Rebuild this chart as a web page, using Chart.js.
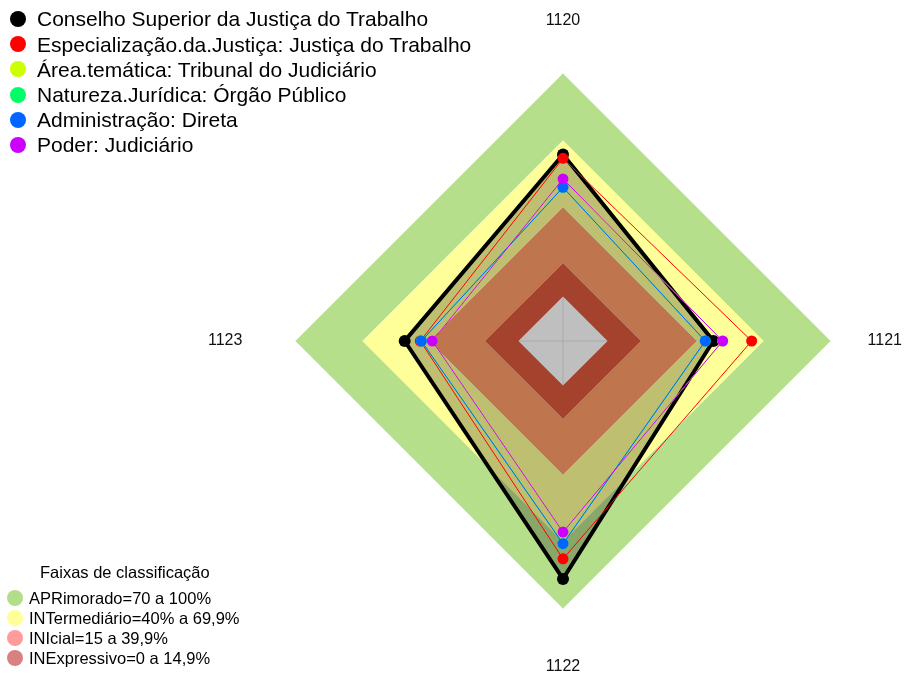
<!DOCTYPE html>
<html lang="pt">
<head>
<meta charset="UTF-8">
<title>Radar - Conselho Superior da Justiça do Trabalho</title>
<script src="https://cdn.jsdelivr.net/npm/chart.js"></script>
<style>
  html, body { margin: 0; padding: 0; background: #fff; overflow: hidden; }
  /* um pouco maior que a janela: o radar fica centrado onde deve */
  #wrap { position: relative; width: 911px; height: 686px; }
  .legenda { position: absolute; left: 0; font-family: 'Liberation Sans', Arial, sans-serif; color: #000; white-space: nowrap; }
  .legenda .item { position: relative; }
  .legenda .item span { position: absolute; border-radius: 50%; }
  #series { top: 6.4px; font-size: 21px; line-height: 25.2px; }
  #series .item { padding-left: 37px; height: 25.2px; }
  #series .item span { left: 10px; top: 4.6px; width: 16px; height: 16px; }
  #faixas { top: 562px; font-size: 16.5px; line-height: 20px; }
  #faixas .titulo { padding-left: 40px; margin-bottom: 6px; }
  #faixas .item { padding-left: 29px; height: 20px; }
  #faixas .item span { left: 7px; top: 2px; width: 16px; height: 16px; }
</style>
</head>
<body>
<div id="wrap">
  <canvas id="grafico"></canvas>
  <div id="series" class="legenda"></div>
  <div id="faixas" class="legenda"></div>
</div>
<script>
// eixos do radar
const eixos = ['1120', '1121', '1122', '1123'];

// séries (valores em %)
const nomesSeries = [
  'Conselho Superior da Justiça do Trabalho',
  'Especialização.da.Justiça: Justiça do Trabalho',
  'Área.temática: Tribunal do Judiciário',
  'Natureza.Jurídica: Órgão Público',
  'Administração: Direta',
  'Poder: Judiciário'
];
const conselho            = [63.6, 47.4, 86.7, 51.0];
const justicaTrabalho     = [61.9, 64.6, 77.7, 44.0];
const tribunalJudiciario  = [52.7, 51.6, 65.7, 38.6];
const orgaoPublico        = [48.9, 43.8, 70.9, 43.5];
const administracaoDireta = [48.9, 43.8, 70.9, 43.5];
const poderJudiciario     = [52.7, 51.6, 65.7, 38.6];

// faixas de classificação
const faixasNomes = [
  'APRimorado=70 a 100%',
  'INTermediário=40% a 69,9%',
  'INIcial=15 a 39,9%',
  'INExpressivo=0 a 14,9%'
];
const faixaTopo = [100, 70, 40, 15];
const faixaBase = [70, 40, 15, 0];

// estilos
const fonte = "'Liberation Sans', Arial, sans-serif";
const seriesCores = ['#000000', '#FF0000', '#CCFF00', '#00FF66', '#0066FF', '#CC00FF'];
const faixasCores = ['#B6DF8B', '#FFFF99', '#FF9C67', '#DC583C'];
const faixasCoresLegenda = ['#B3DE89', '#FFFF99', '#FF9B9B', '#D98080'];
const rotuloPadding = [43.4, 37, 48.4, 53];

const seriesValores = [conselho, justicaTrabalho, tribunalJudiciario, orgaoPublico, administracaoDireta, poderJudiciario];

const datasets = nomesSeries.map((nome, i) => ({
  label: nome,
  data: seriesValores[i],
  borderColor: seriesCores[i],
  borderWidth: i === 0 ? 4 : 1,
  pointBackgroundColor: seriesCores[i],
  pointBorderColor: seriesCores[i],
  pointBorderWidth: 0,
  pointRadius: i === 0 ? 6 : 5.5,
  backgroundColor: i === 0 ? 'rgba(0,0,0,0.25)' : 'transparent',
  fill: i === 0 ? 'start' : false,
  order: nomesSeries.length - i   // a primeira série fica por baixo
}));

faixasNomes.forEach((nome, j) => {
  datasets.push({
    label: nome,
    data: eixos.map(() => faixaTopo[j]),
    backgroundColor: faixasCores[j],
    borderColor: 'transparent',
    borderWidth: 0,
    pointRadius: 0,
    fill: { value: faixaBase[j] },
    order: 20 + j
  });
});

new Chart(document.getElementById('grafico'), {
  type: 'radar',
  data: { labels: eixos, datasets: datasets },
  options: {
    responsive: true,
    maintainAspectRatio: false,
    animation: false,
    events: [],
    layout: { padding: { left: 200, top: 2, right: 0, bottom: 0 } },
    plugins: {
      tooltip: { enabled: false },
      legend: { display: false }
    },
    scales: {
      r: {
        min: -20,
        max: 100,
        startAngle: 0,
        z: 1,
        ticks: { display: false },
        grid: { display: false },
        angleLines: { color: 'rgba(215,215,215,0.7)', lineWidth: 1 },
        pointLabels: {
          color: '#111',
          font: { size: 16, family: fonte },
          padding: (ctx) => rotuloPadding[ctx.index]
        }
      }
    }
  }
});

// legendas em HTML
function montaLegenda(id, nomes, cores, titulo) {
  const caixa = document.getElementById(id);
  if (titulo) {
    const t = document.createElement('div');
    t.className = 'titulo';
    t.textContent = titulo;
    caixa.appendChild(t);
  }
  nomes.forEach((nome, j) => {
    const linha = document.createElement('div');
    linha.className = 'item';
    const bola = document.createElement('span');
    bola.style.background = cores[j];
    linha.appendChild(bola);
    linha.appendChild(document.createTextNode(nome));
    caixa.appendChild(linha);
  });
}
montaLegenda('series', nomesSeries, seriesCores);
montaLegenda('faixas', faixasNomes, faixasCoresLegenda, 'Faixas de classificação');
</script>
</body>
</html>
